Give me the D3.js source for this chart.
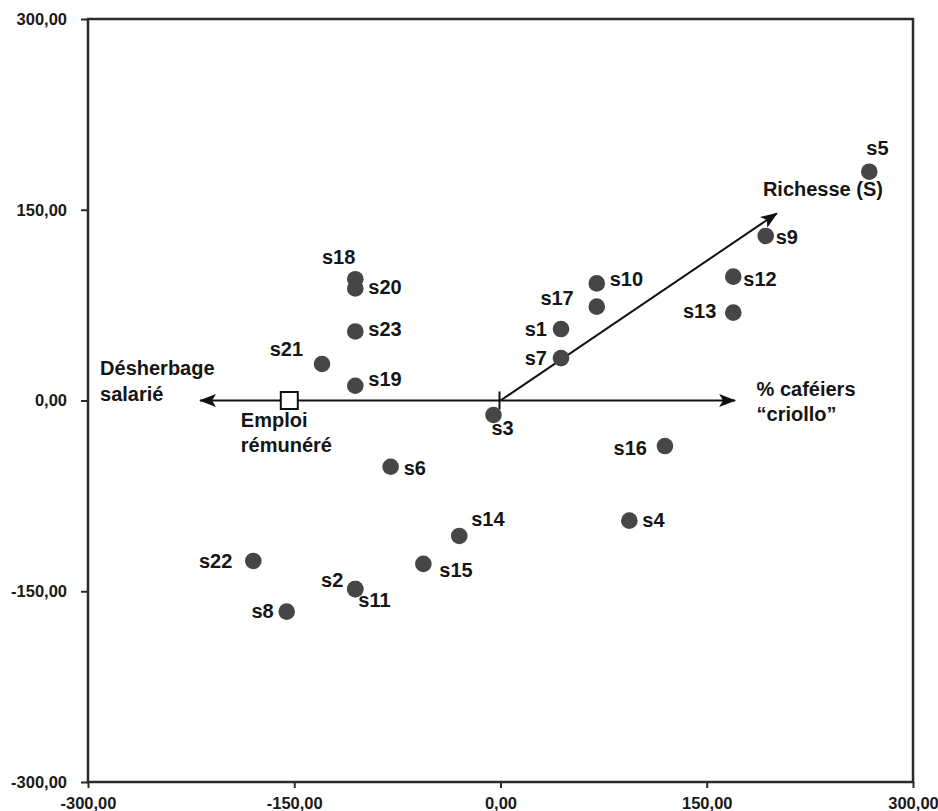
<!DOCTYPE html>
<html>
<head>
<meta charset="utf-8">
<script src="https://cdn.jsdelivr.net/npm/d3@7"></script>
<style>
  html, body { margin: 0; padding: 0; background: #fff; }
  svg { display: block; font-family: "Liberation Sans", Arial, sans-serif; }
</style>
</head>
<body>
<div id="chart"></div>
<script>
// ---- Data ----
const siteNames = ["s1","s2","s3","s4","s5","s6","s7","s8","s9","s10","s11","s12",
                   "s13","s14","s15","s16","s17","s18","s19","s20","s21","s22","s23"];
const siteX = [44.0,-105.6,-5.1,93.7,268.2,-79.9,44.0,-155.5,192.9,70.0,-105.6,169.3,
               169.3,-30.0,-56.1,119.6,70.0,-105.6,-105.6,-105.6,-129.8,-179.8,-105.6];
const siteY = [56.2,-148.3,-11.4,-94.5,179.9,-52.1,33.3,-166.0,129.4,92.1,-148.3,97.4,
               69.1,-106.5,-128.5,-35.8,73.8,95.4,11.6,88.1,28.7,-126.2,54.3];

const xTicks = [-300, -150, 0, 150, 300];
const yTicks = [-300, -150, 0, 150, 300];

// Variable vectors (data coordinates)
const horizArrowLeft = -218.5;   // "Désherbage salarié"
const horizArrowRight = 170.6;   // "% caféiers criollo"
const richesseVector = [201, 147.2];
const emploiPoint = [-153.6, 0];

// ---- Label placement (layout only) ----
const labelPlace = {
  s1:[-14,7,"end"], s2:[-12,-2,"end"], s3:[-2,20,"start"], s4:[13,6,"start"],
  s5:[-3,-17,"start"], s6:[13,8,"start"], s7:[-14,7,"end"], s8:[-13,6,"end"],
  s9:[10,8,"start"], s10:[13,3,"start"], s11:[3,18,"start"], s12:[10,9.5,"start"],
  s13:[-17,5,"end"], s14:[12,-10,"start"], s15:[16,12.7,"start"], s16:[-18,9,"end"],
  s17:[-23,-2,"end"], s18:[0,-15,"end"], s19:[13,0,"start"], s20:[13,6,"start"],
  s21:[-19,-8,"end"], s22:[-21,7,"end"], s23:[13,5,"start"]
};

const fmt = v => d3.format(".2f")(v).replace("\u2212", "-").replace(".", ",");

const W = 938, H = 811;
const margin = {left: 88, top: 19, right: 25, bottom: 29};

const svg = d3.select("#chart").append("svg").attr("width", W).attr("height", H);

const x = d3.scaleLinear().domain([-300, 300]).range([margin.left, W - margin.right]);
const y = d3.scaleLinear().domain([-300, 300]).range([H - margin.bottom, margin.top]);

// arrow marker
const defs = svg.append("defs");
defs.append("marker")
  .attr("id", "arrow").attr("viewBox", "0 -7 18 14")
  .attr("refX", 16).attr("refY", 0)
  .attr("markerWidth", 18).attr("markerHeight", 14)
  .attr("markerUnits", "userSpaceOnUse")
  .attr("orient", "auto-start-reverse")
  .append("path").attr("d", "M0,-6.5L17,0L0,6.5L4,0Z").attr("fill", "#111");

// Frame
svg.append("rect")
  .attr("x", x(-300)).attr("y", y(300))
  .attr("width", x(300) - x(-300)).attr("height", y(-300) - y(300))
  .attr("fill", "none").attr("stroke", "#2a2a2a").attr("stroke-width", 2.5);

// Axes
const xAxis = d3.axisBottom(x).tickValues(xTicks).tickFormat(fmt).tickSizeInner(6).tickSizeOuter(0).tickPadding(9);
const yAxis = d3.axisLeft(y).tickValues(yTicks).tickFormat(fmt).tickSizeInner(7).tickSizeOuter(0).tickPadding(14);

const gx = svg.append("g").attr("transform", `translate(0,${y(-300)})`).call(xAxis);
const gy = svg.append("g").attr("transform", `translate(${x(-300)},0)`).call(yAxis);
[gx, gy].forEach(g => {
  g.attr("font-family", "'Liberation Sans', Arial, sans-serif");
  g.select(".domain").remove();
  g.selectAll(".tick line").attr("stroke", "#2a2a2a").attr("stroke-width", 2);
  g.selectAll(".tick text").attr("fill", "#1a1a1a").attr("font-size", 16.5)
    .attr("font-weight", "bold");
});
gx.selectAll(".tick text").attr("dy", "0.71em");

// Horizontal double arrow
svg.append("line")
  .attr("x1", x(0)).attr("y1", y(0))
  .attr("x2", x(horizArrowLeft)).attr("y2", y(0))
  .attr("stroke", "#111").attr("stroke-width", 2).attr("marker-end", "url(#arrow)");
svg.append("line")
  .attr("x1", x(0)).attr("y1", y(0))
  .attr("x2", x(horizArrowRight)).attr("y2", y(0))
  .attr("stroke", "#111").attr("stroke-width", 2).attr("marker-end", "url(#arrow)");

// Richesse arrow
svg.append("line")
  .attr("x1", x(0)).attr("y1", y(0))
  .attr("x2", x(richesseVector[0])).attr("y2", y(richesseVector[1]))
  .attr("stroke", "#111").attr("stroke-width", 2).attr("marker-end", "url(#arrow)");

// origin tick
svg.append("line")
  .attr("x1", x(0) - 1).attr("x2", x(0) - 1)
  .attr("y1", y(0) - 9).attr("y2", y(0) + 9)
  .attr("stroke", "#111").attr("stroke-width", 2);

// Emploi square
svg.append("rect")
  .attr("x", x(emploiPoint[0]) - 8.5).attr("y", y(emploiPoint[1]) - 8.5)
  .attr("width", 17).attr("height", 17)
  .attr("fill", "#fff").attr("stroke", "#111").attr("stroke-width", 2);

// Points
const sites = siteNames.map((n, i) => ({name: n, x: siteX[i], y: siteY[i]}));
svg.append("g").selectAll("circle").data(sites).join("circle")
  .attr("cx", d => x(d.x)).attr("cy", d => y(d.y)).attr("r", 8.3)
  .attr("fill", "#464646");

// Point labels
svg.append("g").selectAll("text").data(sites).join("text")
  .attr("x", d => x(d.x) + labelPlace[d.name][0])
  .attr("y", d => y(d.y) + labelPlace[d.name][1])
  .attr("text-anchor", d => labelPlace[d.name][2])
  .attr("font-size", 20).attr("font-weight", "bold").attr("fill", "#151515")
  .text(d => d.name);

// Variable labels
function multiLabel(lines, px, py, lh) {
  const t = svg.append("text").attr("font-size", 20).attr("font-weight", "bold").attr("fill", "#151515");
  lines.forEach((l, i) => t.append("tspan").attr("x", px).attr("y", py + i * lh).text(l));
}
multiLabel(["Désherbage", "salarié"], x(horizArrowLeft) - 100, y(0) - 26, 26);
multiLabel(["Emploi", "rémunéré"], x(emploiPoint[0]) - 48.5, y(emploiPoint[1]) + 26, 25);
multiLabel(["% caféiers", "\u201Ccriollo\u201D"], x(horizArrowRight) + 21.5, y(0) - 4.5, 24.5);
multiLabel(["Richesse (S)"], x(richesseVector[0]) - 14, y(richesseVector[1]) - 17, 24);
</script>
</body>
</html>
